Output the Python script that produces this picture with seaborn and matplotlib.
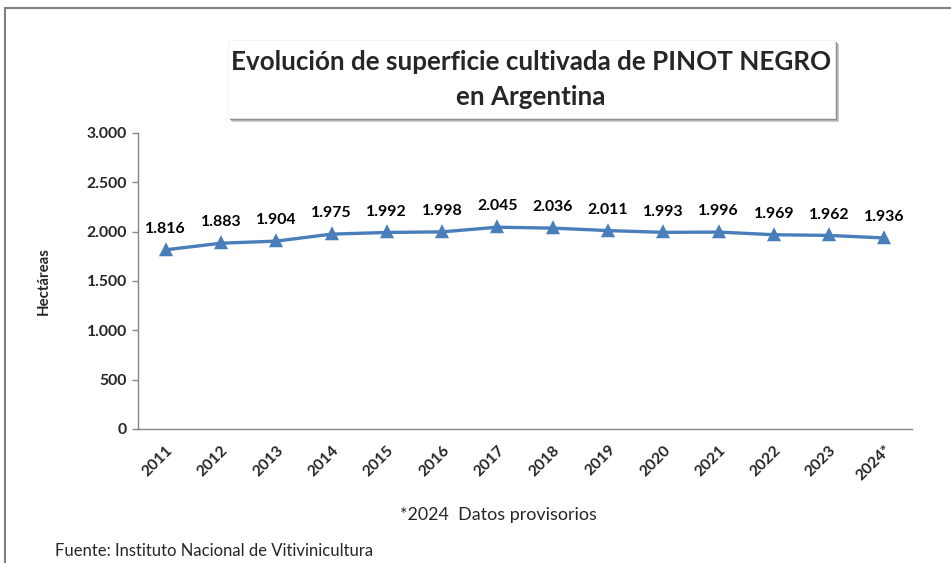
import seaborn as sns
import matplotlib.pyplot as plt
import matplotlib.patches as patches
import matplotlib.ticker as mticker
import pandas as pd

years = ['2011', '2012', '2013', '2014', '2015', '2016', '2017',
         '2018', '2019', '2020', '2021', '2022', '2023', '2024*']
hectareas = [1816, 1883, 1904, 1975, 1992, 1998, 2045,
             2036, 2011, 1993, 1996, 1969, 1962, 1936]

df = pd.DataFrame({'Año': years, 'Hectáreas': hectareas})

sns.set_theme(style="white")
plt.rcParams['font.family'] = ['Lato', 'DejaVu Sans']

W, H = 951, 563
fig = plt.figure(figsize=(W / 100, H / 100), dpi=100)
ax = fig.add_axes([138 / W, 1 - 429 / H, (912 - 138) / W, (429 - 133) / H])

blue = '#4A7EBB'
sns.pointplot(data=df, x='Año', y='Hectáreas', color=blue, markers='^',
              linestyles='-', linewidth=2.4, markersize=7.5, ax=ax)

ax.set_xlim(-0.5, len(years) - 0.5)
ax.set_ylim(0, 3000)
ax.yaxis.set_major_locator(mticker.MultipleLocator(500))
ax.yaxis.set_major_formatter(
    mticker.FuncFormatter(lambda v, p: f'{int(v):,}'.replace(',', '.')))

# value labels
for i, v in enumerate(hectareas):
    ax.annotate(f'{v:,}'.replace(',', '.'), (i, v), xytext=(0, 15),
                textcoords='offset points', ha='center', va='center',
                fontsize=11.4, fontweight='bold', color='black')

# spines
for s in ['top', 'right']:
    ax.spines[s].set_visible(False)
for s in ['left', 'bottom']:
    ax.spines[s].set_color('#868686')
    ax.spines[s].set_linewidth(1.0)

ax.set_xticks(range(len(years)))
ax.set_xticklabels(years, rotation=45, ha='right', rotation_mode='anchor',
                   fontsize=11.3, fontweight='bold')
ax.set_xticks([i - 0.5 for i in range(len(years) + 1)], minor=True)
ax.tick_params(axis='x', which='major', length=0, pad=10)
ax.tick_params(axis='x', which='minor', direction='in', length=5,
               color='#868686', width=1)
ax.tick_params(axis='y', which='major', direction='out', length=4,
               color='#868686', width=1, left=True, pad=4)
for lab in ax.get_yticklabels():
    lab.set_fontsize(11.3)
    lab.set_fontweight('bold')

ax.set_xlabel('')
ax.set_ylabel('Hectáreas', fontsize=10.8, fontweight='bold', labelpad=26)
ax.grid(False)

# outer frame
fig.patches.append(patches.Rectangle((5 / W, -0.1), 1.2, 1 - 8 / H + 0.1,
                                     transform=fig.transFigure, fill=False,
                                     edgecolor='#7f7f7f', linewidth=1.5))

# title box with shadow
bx0, bx1, by0, by1 = 228, 835, 40, 118
for off, c in [(4, '#d0d0d0'), (3, '#b0b0b0'), (2, '#909090')]:
    fig.patches.append(patches.Rectangle(((bx0 + off) / W, 1 - (by1 + off) / H),
                                         (bx1 - bx0) / W, (by1 - by0) / H,
                                         transform=fig.transFigure,
                                         facecolor=c, edgecolor='none'))
fig.patches.append(patches.Rectangle((bx0 / W, 1 - by1 / H),
                                     (bx1 - bx0) / W, (by1 - by0) / H,
                                     transform=fig.transFigure,
                                     facecolor='white', edgecolor='#f0f0f0',
                                     linewidth=0.5))
fig.text(531 / W, 1 - 62 / H, 'Evolución de superficie cultivada de PINOT NEGRO',
         ha='center', va='center', fontsize=18.7, fontweight='bold')
fig.text(531 / W, 1 - 97 / H, 'en Argentina',
         ha='center', va='center', fontsize=18.7, fontweight='bold')

fig.text(498 / W, 1 - 515 / H, '*2024  Datos provisorios',
         ha='center', va='center', fontsize=12.9)
fig.text(55 / W, 1 - 551 / H, 'Fuente: Instituto Nacional de Vitivinicultura',
         ha='left', va='center', fontsize=12)

plt.savefig('out.png', dpi=100)
plt.close()
